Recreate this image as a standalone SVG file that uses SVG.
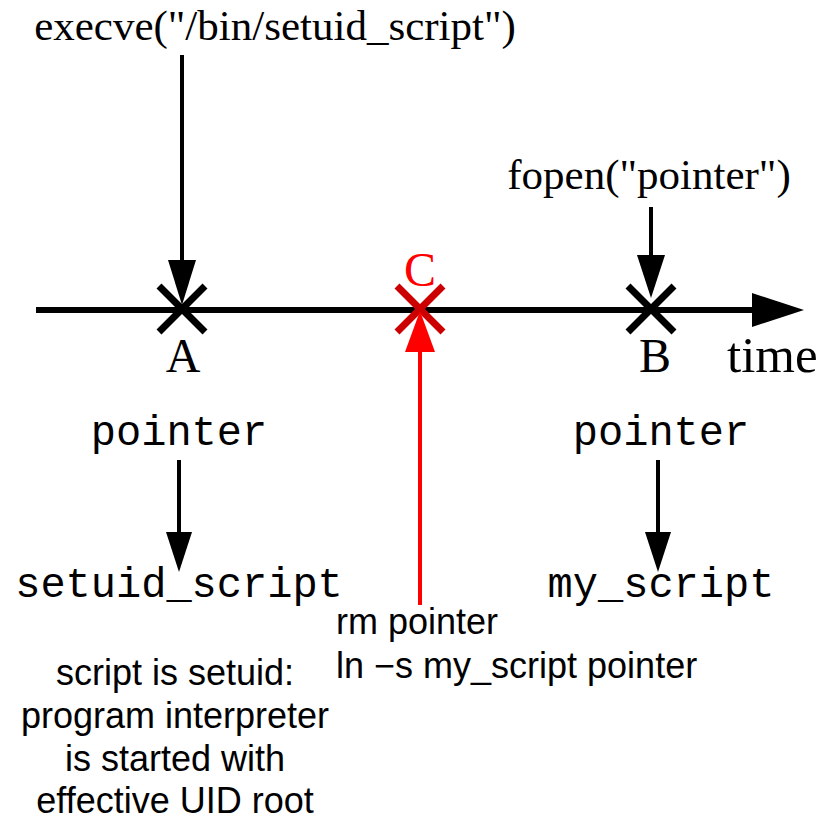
<svg xmlns="http://www.w3.org/2000/svg" width="833" height="821" viewBox="0 0 833 821">
  <style>
    .serif { font-family: "Liberation Serif", "Times New Roman", serif; fill: #000; }
    .mono { font-family: "Liberation Mono", "Courier New", monospace; fill: #000; font-size: 42px; }
    .sans { font-family: "Liberation Sans", Arial, sans-serif; fill: #000; font-size: 36px; }
    .line { stroke: #000; stroke-width: 4; fill: none; }
    .mark { stroke: #000; stroke-width: 7; fill: none; }
  </style>

  <!-- time axis -->
  <g id="axis">
    <line x1="36" y1="310" x2="760" y2="310" stroke="#000" stroke-width="6"/>
    <path d="M752,293 L804,310 L752,327 z" fill="#000"/>
    <text class="serif" x="727" y="372" font-size="51">time</text>
  </g>

  <!-- event A -->
  <g id="eventA">
    <path class="mark" d="M159,286 L205,332 M205,286 L159,332"/>
    <text class="serif" x="183" y="372" font-size="48" text-anchor="middle">A</text>
    <text class="serif" x="275" y="40" font-size="43" text-anchor="middle">execve("/bin/setuid_script")</text>
  </g>

  <!-- event C -->
  <g id="eventC">
    <path d="M397,286 L443,332 M443,286 L397,332" stroke="#cc0000" stroke-width="7" fill="none"/>
    <text x="420" y="286" font-size="48" text-anchor="middle" font-family="Liberation Serif, Times New Roman, serif" fill="#ff0000">C</text>
    <text class="sans" x="336" y="634">rm pointer</text>
    <text class="sans" x="336" y="678">ln −s my_script pointer</text>
  </g>

  <!-- event B -->
  <g id="eventB">
    <path class="mark" d="M628,286 L674,332 M674,286 L628,332"/>
    <text class="serif" x="655" y="372" font-size="48" text-anchor="middle">B</text>
    <text class="serif" x="649" y="189" font-size="43" text-anchor="middle">fopen("pointer")</text>
  </g>

  <!-- link state at A -->
  <g id="linkA">
    <text class="mono" x="179" y="445" text-anchor="middle">pointer</text>
    <text class="mono" x="179" y="597" text-anchor="middle">setuid_script</text>
    <text class="sans" x="175" y="685" text-anchor="middle">script is setuid:</text>
    <text class="sans" x="175" y="728" text-anchor="middle">program interpreter</text>
    <text class="sans" x="175" y="771" text-anchor="middle">is started with</text>
    <text class="sans" x="175" y="813" text-anchor="middle">effective UID root</text>
  </g>

  <!-- link state at B -->
  <g id="linkB">
    <text class="mono" x="661" y="445" text-anchor="middle">pointer</text>
    <text class="mono" x="661" y="597" text-anchor="middle">my_script</text>
  </g>

  <!-- connectors -->
  <g id="connectors">
    <line x1="182" y1="55" x2="182" y2="262" class="line"/>
    <path d="M168,260 L182,305 L196,260 z" fill="#000"/>
    <line x1="651" y1="207" x2="651" y2="258" class="line"/>
    <path d="M637,255 L651,298 L665,255 z" fill="#000"/>
    <line x1="179" y1="460" x2="179" y2="535" class="line"/>
    <path d="M166,532 L179,572 L192,532 z" fill="#000"/>
    <line x1="658" y1="460" x2="658" y2="535" class="line"/>
    <path d="M645,532 L658,572 L671,532 z" fill="#000"/>
    <line x1="420" y1="605" x2="420" y2="348" stroke="#ff0000" stroke-width="4"/>
    <path d="M405,352 L420,311 L435,352 z" fill="#ff0000"/>
  </g>
</svg>
